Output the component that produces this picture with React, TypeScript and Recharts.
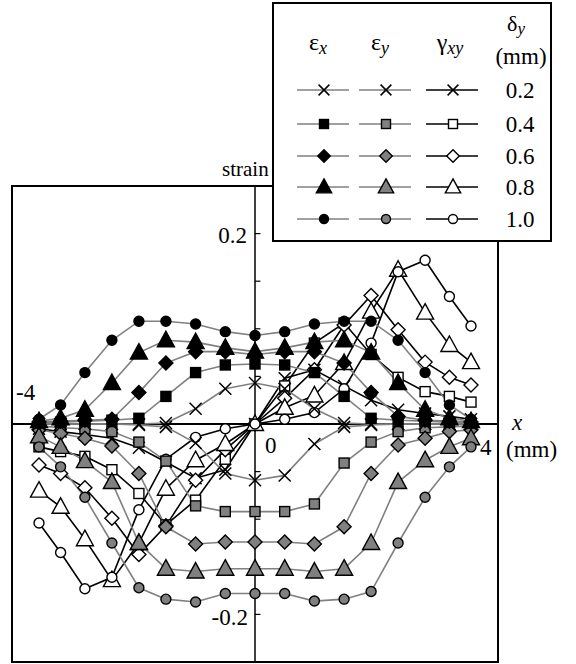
import { LineChart, Line, XAxis, YAxis, ReferenceLine, ReferenceArea } from 'recharts';

// node positions along x (mm)
const xs = [-4, -3.6, -3.15, -2.65, -2.15, -1.65, -1.1, -0.55, 0, 0.55, 1.1, 1.65, 2.15, 2.65, 3.15, 3.6, 4];

const deltas = ['0.2', '0.4', '0.6', '0.8', '1.0'];
const shapes = ['cross', 'square', 'diamond', 'triangle', 'circle'];

const ex02 = [0, 0, 0, 0, 0, 0.001, 0.016, 0.037, 0.043, 0.037, 0.016, 0.001, 0, 0, 0, 0, 0];
const ex04 = [0.001, 0.002, 0.003, 0.004, 0.006, 0.029, 0.054, 0.062, 0.063, 0.062, 0.054, 0.029, 0.006, 0.004, 0.003, 0.002, 0.001];
const ex06 = [0.002, 0.003, 0.004, 0.005, 0.033, 0.064, 0.076, 0.076, 0.073, 0.076, 0.076, 0.064, 0.033, 0.008, 0.004, 0.003, 0.002];
const ex08 = [0.003, 0.006, 0.015, 0.043, 0.075, 0.088, 0.086, 0.08, 0.076, 0.08, 0.086, 0.088, 0.075, 0.043, 0.015, 0.006, 0.003];
const ex10 = [0.005, 0.02, 0.054, 0.088, 0.108, 0.108, 0.105, 0.097, 0.093, 0.097, 0.105, 0.108, 0.108, 0.088, 0.054, 0.02, 0.005];

const ey02 = [0, 0, 0, 0, -0.001, -0.003, -0.02, -0.052, -0.059, -0.054, -0.021, -0.003, -0.001, 0, 0, 0, 0];
const ey04 = [-0.002, -0.004, -0.005, -0.008, -0.019, -0.039, -0.086, -0.092, -0.092, -0.092, -0.084, -0.041, -0.019, -0.008, -0.004, -0.003, -0.002];
const ey06 = [-0.006, -0.01, -0.015, -0.023, -0.052, -0.108, -0.126, -0.124, -0.124, -0.124, -0.126, -0.108, -0.052, -0.022, -0.015, -0.008, -0.006];
const ey08 = [-0.013, -0.024, -0.039, -0.061, -0.125, -0.152, -0.155, -0.152, -0.152, -0.152, -0.155, -0.152, -0.125, -0.061, -0.038, -0.024, -0.015];
const ey10 = [-0.024, -0.045, -0.077, -0.125, -0.172, -0.184, -0.187, -0.178, -0.178, -0.178, -0.186, -0.184, -0.176, -0.125, -0.077, -0.045, -0.024];

const g02 = [-0.005, -0.008, -0.011, -0.015, -0.025, -0.04, -0.057, -0.048, 0, 0.048, 0.057, 0.04, 0.025, 0.015, 0.011, 0.008, 0.005];
const g04 = [-0.024, -0.029, -0.034, -0.048, -0.073, -0.106, -0.08, -0.037, 0, 0.04, 0.085, 0.106, 0.073, 0.049, 0.034, 0.029, 0.023];
const g06 = [-0.043, -0.052, -0.067, -0.099, -0.137, -0.107, -0.059, -0.027, 0, 0.027, 0.057, 0.104, 0.135, 0.099, 0.065, 0.049, 0.041];
const g08 = [-0.07, -0.087, -0.121, -0.164, -0.125, -0.068, -0.038, -0.021, 0, 0.017, 0.03, 0.064, 0.118, 0.162, 0.117, 0.083, 0.065];
const g10 = [-0.104, -0.135, -0.173, -0.161, -0.09, -0.037, -0.014, -0.005, 0, 0.005, 0.012, 0.037, 0.085, 0.16, 0.172, 0.134, 0.103];

const yTicks = [-0.2, -0.15, -0.1, -0.05, 0.05, 0.1, 0.15, 0.2];

const GRAY = '#808080';
const groups = [
  { id: 'gxy', fill: '#fff', line: '#000', values: [g02, g04, g06, g08, g10] },
  { id: 'ey', fill: GRAY, line: GRAY, values: [ey02, ey04, ey06, ey08, ey10] },
  { id: 'ex', fill: '#000', line: GRAY, values: [ex02, ex04, ex06, ex08, ex10] },
];

const rows = xs.map((x, i) => {
  const row: Record<string, number> = { x };
  groups.forEach((g) => g.values.forEach((v, k) => (row[`${g.id}${k}`] = v[i])));
  return row;
});

function Marker({ shape, cx, cy, fill, s = 1 }: { shape: string; cx: number; cy: number; fill: string; s?: number }) {
  const sw = 1.4;
  if (shape === 'cross') {
    const h = 6 * s;
    return (
      <g stroke="#000" strokeWidth={1.5}>
        <line x1={cx - h} y1={cy - h} x2={cx + h} y2={cy + h} />
        <line x1={cx - h} y1={cy + h} x2={cx + h} y2={cy - h} />
      </g>
    );
  }
  if (shape === 'square') {
    const h = 5 * s;
    return <rect x={cx - h} y={cy - h} width={2 * h} height={2 * h} fill={fill} stroke="#000" strokeWidth={sw} />;
  }
  if (shape === 'diamond') {
    const h = 7 * s;
    return <polygon points={`${cx},${cy - h} ${cx + h},${cy} ${cx},${cy + h} ${cx - h},${cy}`} fill={fill} stroke="#000" strokeWidth={sw} />;
  }
  if (shape === 'triangle') {
    const w = 8.5 * s;
    return <polygon points={`${cx},${cy - 9 * s} ${cx + w},${cy + 6.5 * s} ${cx - w},${cy + 6.5 * s}`} fill={fill} stroke="#000" strokeWidth={sw} />;
  }
  return <circle cx={cx} cy={cy} r={5 * s} fill={fill} stroke="#000" strokeWidth={sw} />;
}

const font = 'Liberation Serif, DejaVu Serif, serif';
const legendRows = [90, 124, 156, 187, 219];
const legendCols = [
  { id: 'ex', cx: 324, fill: '#000', line: GRAY },
  { id: 'ey', cx: 386, fill: GRAY, line: GRAY },
  { id: 'gxy', cx: 453, fill: '#fff', line: '#000' },
];

export default function App() {
  return (
    <div style={{ position: 'absolute', left: 0, top: 0, width: 576, height: 664, background: '#fff' }}>
      <LineChart width={576} height={664} data={rows} margin={{ top: 186, right: 78, bottom: 2, left: 12 }}>
        <XAxis dataKey="x" type="number" domain={[-4.5, 4.5]} hide />
        <YAxis type="number" domain={[-0.25, 0.25]} hide />
        <ReferenceArea x1={-4.5} x2={4.5} y1={-0.25} y2={0.25} fill="none" stroke="#000" strokeWidth={2} />
        <ReferenceLine y={0} stroke="#000" strokeWidth={2} />
        <ReferenceLine x={0} stroke="#000" strokeWidth={1.5} />
        {yTicks.map((t) => (
          <ReferenceLine key={t} segment={[{ x: 0, y: t }, { x: 0.1, y: t }]} stroke="#000" strokeWidth={1.2} />
        ))}
        {groups.map((g) =>
          g.values.map((_, k) => (
            <Line
              key={`${g.id}${k}`}
              dataKey={`${g.id}${k}`}
              stroke={g.line}
              strokeWidth={1.6}
              isAnimationActive={false}
              activeDot={false}
              dot={(p: any) => <Marker key={`${g.id}${k}-${p.index}`} shape={shapes[k]} cx={p.cx} cy={p.cy} fill={g.fill} />}
            />
          ))
        )}
      </LineChart>
      <svg width={576} height={664} style={{ position: 'absolute', left: 0, top: 0, pointerEvents: 'none', fontFamily: font }}>
        <text x={222} y={176} fontSize={21}>strain</text>
        <text x={247} y={243} fontSize={23} textAnchor="end">0.2</text>
        <text x={248} y={625} fontSize={23} textAnchor="end">-0.2</text>
        <text x={16} y={400} fontSize={23}>-4</text>
        <text x={265} y={453} fontSize={23}>0</text>
        <text x={480} y={455} fontSize={23}>4</text>
        <text x={512} y={430} fontSize={23} fontStyle="italic">x</text>
        <text x={506} y={457} fontSize={23}>(mm)</text>

        <rect x={273} y={3} width={278} height={238} fill="#fff" stroke="#000" strokeWidth={2} />
        <text x={318} y={50} fontSize={24} textAnchor="middle">
          ε<tspan fontStyle="italic" fontSize={18} dy={4}>x</tspan>
        </text>
        <text x={380} y={50} fontSize={24} textAnchor="middle">
          ε<tspan fontStyle="italic" fontSize={18} dy={4}>y</tspan>
        </text>
        <text x={450} y={50} fontSize={24} textAnchor="middle">
          γ<tspan fontStyle="italic" fontSize={18} dy={4}>xy</tspan>
        </text>
        <text x={516} y={31} fontSize={22} textAnchor="middle">
          δ<tspan fontStyle="italic" fontSize={17} dy={3}>y</tspan>
        </text>
        <text x={521} y={64} fontSize={23} textAnchor="middle">(mm)</text>
        {deltas.map((d, k) => (
          <g key={d}>
            {legendCols.map((c) => (
              <g key={c.id}>
                <line x1={c.cx - 27} x2={c.cx + 25} y1={legendRows[k]} y2={legendRows[k]} stroke={c.line} strokeWidth={1.6} />
                <Marker shape={shapes[k]} cx={c.cx} cy={legendRows[k]} fill={c.fill} s={0.9} />
              </g>
            ))}
            <text x={520} y={legendRows[k] + 8} fontSize={23} textAnchor="middle">{d}</text>
          </g>
        ))}
      </svg>
    </div>
  );
}
